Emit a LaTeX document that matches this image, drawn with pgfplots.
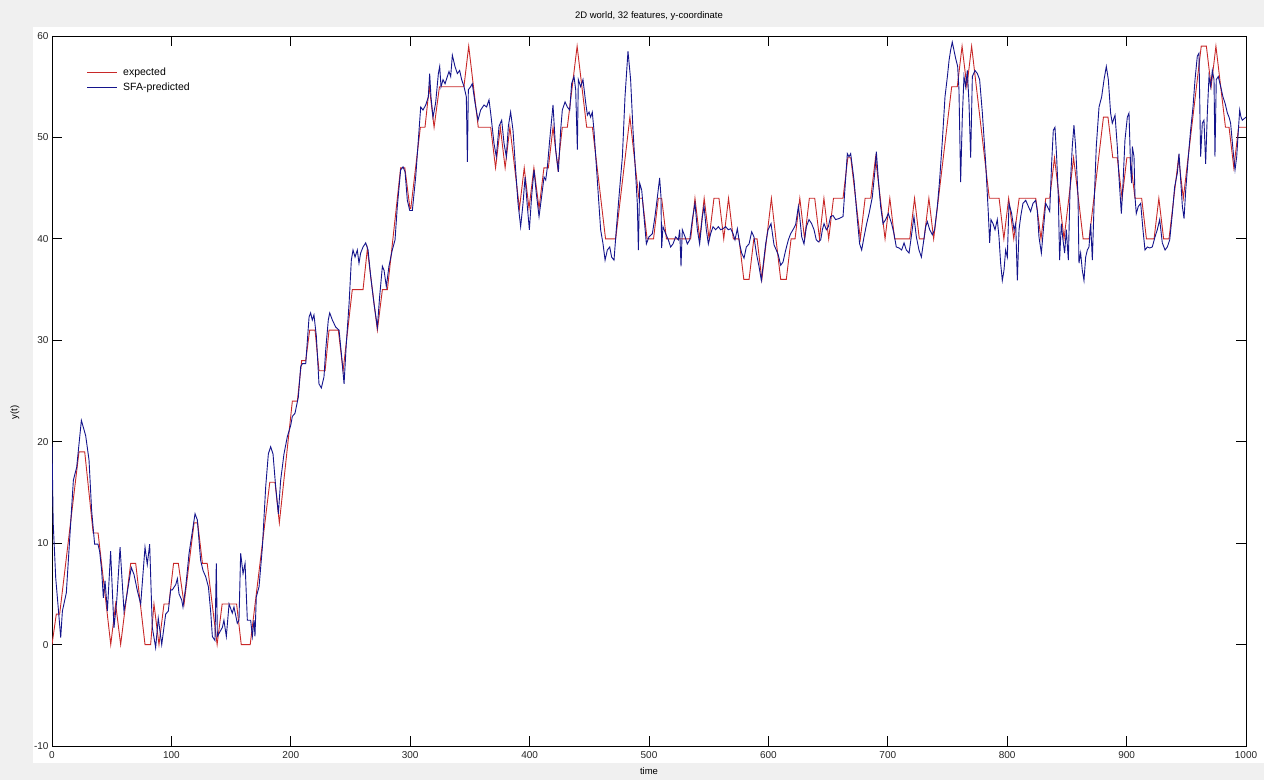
\documentclass[border=0pt]{standalone}
\usepackage{fontspec}
\setmainfont{Liberation Sans}
\usepackage{pgfplots}
\pgfplotsset{compat=1.18}
\definecolor{figbg}{RGB}{240,240,240}
\definecolor{expred}{RGB}{200,40,40}
\definecolor{sfablue}{RGB}{20,20,140}

\pgfplotstableread{
t y
0 0
3.6 3
6.4 3
22.6 19
27.4 19
34.5 11
38.6 11
49.2 0
53.3 4
57.5 0
65.9 8
70.1 8
77.9 0
82.6 0
85.4 4
89.6 0
93.8 4
97.9 4
101.8 8
105.8 8
110.6 4
119 12
122 12
126 8
130 8
138.3 0
142.5 4
154.6 4
158.5 0
166 0
182.4 16
186.8 16
190.4 12
201.3 24
205.5 24
209.1 28
212.5 28
215.8 31
220.3 31
223.6 27
228.7 27
232 31
239.8 31
243.8 27
251.5 35
260.5 35
264.1 39
272.5 31
276.7 35
280.9 35
292 47
295.5 47
299.8 43
300.5 43
308.5 51
312.4 51
316 55
320 51
324.5 55
345 55
349 59
357 51
367.4 51
371.5 47
375.5 51
379.5 47
383.5 51
391.5 43
395.5 47
399.5 43
403.6 47
407.9 43
412 47
415.7 47
419.6 51
423.6 47
427.4 51
431.6 51
439.8 59
447.8 51
452.6 51
463.6 40
472.1 40
484 52
491.5 44
494.4 44
498.4 40
503.8 40
507.8 44
510.6 44
514.6 40
534.9 40
538.5 44
542.5 40
546.2 44
550.3 40
554.4 44
558.6 44
562.6 40
566.6 44
570.6 40
575.4 40
579.4 36
583.8 36
587.8 40
590.5 40
594.5 36
598.5 40
602.5 44
606.3 40
610.3 36
615 36
619 40
622.3 40
626.3 44
630.3 40
634.3 44
638.8 44
642.8 40
646.5 44
650.5 40
654.5 44
662.5 44
666.5 48
669 48
677 40
681 44
685.7 44
689.7 48
697.7 40
701.7 44
705.7 40
718.4 40
722.4 44
726.4 40
730.4 40
734.4 44
738.4 40
753.5 55
758.2 55
762.2 59
766.2 55
770.2 59
785 44
793.2 44
797.2 40
801.2 44
805.5 40
810 44
823.9 44
828.3 40
832.3 44
835.6 44
839.6 48
847.6 40
855.6 48
863.6 40
868.6 40
880.6 52
884.4 52
888.4 48
892.2 48
896.2 44
900.2 48
903 48
907 44
912.6 44
916.6 40
923 40
927 44
931 40
935.5 40
943.5 48
947.5 44
962.5 59
966.8 59
970.8 55
974.8 59
982.8 51
985.8 51
989.8 47
993.8 51
1000 51
}\expected

\pgfplotstableread{
t y
0 19.8
1 12
3.1 6.6
7.3 0.7
8.7 3.3
12 5.1
17.9 16.2
20.7 17.5
24.6 22.1
28.2 20.6
31 18.2
33.2 13.2
35.7 9.9
38.5 9.9
39.9 9.2
41.6 7.3
43 4.6
44.4 6.3
46.4 3.3
49.1 9.2
51.9 1.65
54.2 4.3
57 9.6
60.3 3.3
62.3 4.6
66.4 7.6
68.7 6.9
71.5 5.3
74.3 4.0
77.9 9.6
79.8 7.9
81.8 9.9
84 1.7
86.8 -0.3
89 2.6
91.9 0
95.2 3
97.4 3.3
99.4 5.4
100.8 5.4
103.6 5.9
105 6.5
106.4 5.0
108.6 4.4
109.7 3.7
112 5.7
114.8 9
119.8 12.9
121.7 12.3
124.5 8.3
126.5 7.3
128.7 6.7
131 5.7
133 3.1
134.3 0.8
136.5 0.4
137.6 8
138.5 0.8
139.9 1.1
142.7 1.7
144 2.4
146 0.8
148.3 4.0
151 3.1
152.4 3.7
155.2 2.1
156.6 2.4
158 9
160 7
161.7 8
163.6 2.4
166.4 2.4
167.8 0.8
169.2 2.4
170 0.8
171.1 4.7
173.4 5.7
176.2 9.6
179 15.6
181.2 18.8
183.1 19.5
185.1 18.8
187.3 15.6
189.6 12.9
191.5 16.2
194.3 18.8
197.1 20.5
199.9 21.6
201.3 22.5
203.5 22.8
206.3 24.4
208.3 27.4
209.7 27.7
212.5 27.7
215.3 32.3
216.6 32.7
218 32
219.4 32.5
221.4 30.4
223.6 25.7
225.6 25.3
227.8 26.4
229.2 29
231.4 32
232.6 32.7
234.8 32
237.6 31.3
240.4 31
242.6 28.4
244.6 25.7
246.5 29.7
248.8 33.6
250.7 37.9
252.1 38.9
253.8 38.2
255.7 38.9
257.1 37.6
258.5 38.6
260.5 39.2
262.7 39.6
264.7 38.9
266.9 36.3
269.7 33.6
272.5 31.3
274.4 34.3
276.7 37.3
278.1 36.9
280 35.3
282.2 37.3
285 38.9
287.3 39.9
289.2 43.2
292 46.8
294 47.1
295.7 46.6
297.6 43.8
299.6 42.8
301.8 42.8
304.6 46.1
307.4 50.7
308.8 53
310.7 52.7
313 53.2
315.2 54
316.3 56.3
317.4 54
319.1 52
321.3 53.4
323.6 56.3
324.7 57
325.8 55
327.5 55.7
329.2 55.3
331.1 56
332.5 56.5
333.9 56
335.3 58.1
337.5 57
339.5 56.3
341.4 56.6
343.1 55.7
345.1 55
347 54
347.9 47.6
348.7 54.7
350.6 55
352 55.3
354.3 53.4
356.8 51.7
359 52.7
361.8 53.2
364 53
366 53.7
367.4 52.4
370.2 49.4
372.1 48.1
374.4 51.1
376.6 51.7
378.6 49.4
380.5 48.1
382.2 51.1
384.1 52.5
386.1 50.7
388.3 46.8
390.3 43.5
392.5 41.2
394.5 43.5
396.2 46.1
398.1 43.2
399.8 40.9
401.7 44.2
403.7 46.8
405.6 44.5
407.9 42.2
410.1 44.2
412.1 46.1
413.5 45.8
414.9 47.1
416.8 49.7
419.6 53.2
421.8 48.8
424.1 46.6
426 50.7
427.4 52.7
429.7 53.5
431.6 53
433.6 52.7
435.2 55.3
437.2 56
438.6 54.7
440 48.8
440.8 55.7
442.8 55
444.7 55.7
447 53.4
448.4 52.2
449.8 52.5
451.1 52
452.5 52.5
453.9 50.7
456.7 45.8
459.5 40.9
461.5 39.5
463.2 37.9
465.1 38.9
467.1 39.2
468.7 38.2
470.7 37.9
472.6 40.9
474.9 44.2
477.7 48.1
479.9 54
482.4 58.5
484.6 55.7
486.6 50.7
488.3 47.4
490.2 43.5
491.1 38.9
492.2 45.5
493.9 44.8
495.8 42.2
497.8 39.5
500 40.2
502.8 40.5
505 42.2
507 44.1
508.9 46
510 44.2
510.6 39.1
511.7 41.2
514 40.5
516.2 39.9
518.1 39.2
520.1 39.5
522.3 40.2
524.6 39.9
525.7 40.9
526.8 37.3
527.9 40.9
530.2 40.2
532.1 39.5
534.1 39.9
536.3 41.9
538.5 43.5
540.5 40.9
542.4 39.5
544.7 42.2
546.1 43.2
548 40.9
549.7 39.5
551.6 40.5
553.6 41.2
555.8 40.9
558.1 41.2
560 40.9
562 41
564.2 41.2
566.4 40.9
568.4 41
570.4 40.5
572 39.9
574 41
575.9 39.5
577.6 38.6
579.6 38.1
581.5 39.2
583.8 39.5
586 40.7
587.9 40.2
589.9 38.6
592.1 37.3
594.1 35.9
595.8 37.6
597.7 39.5
599.7 40.9
602.2 41.5
604.7 39.4
606.6 38.9
608.3 38.4
610.3 37.4
612.2 37.7
614.5 38.9
616.7 39.9
618.6 40.5
620.6 40.9
622.8 41.4
625.1 43.2
626.2 42.2
627.9 40.2
629.8 39.5
631.8 41.2
634 41.9
636.2 41.5
638.2 40.9
640.1 39.9
641.8 39.7
643.8 39.9
645.2 40.9
646.6 41.5
648.5 40.9
650.2 41.2
652.1 42.2
654.1 42.3
656.3 41.9
659.1 42
662.5 42.2
664.2 45.1
666.1 48.4
667.5 48.1
668.9 48.4
671.7 45.8
674.5 41.9
676.4 39.5
678.1 38.9
680.1 40.2
682.3 41.5
684.3 42.5
687 44.1
689.3 46.8
690.4 48.6
692.1 45.8
694 43.2
696 41.5
698.2 41.9
700.4 42.5
703.2 41.5
705.2 40.5
707.1 39.2
709.4 39.1
711.6 38.9
713.6 39.6
715.5 38.9
717.8 38.6
720 40.5
721.9 42.2
723.9 40.2
726.1 38.9
728.1 38.2
729.8 39.6
731.7 41.2
733.1 41.7
735.1 40.9
737.3 40.4
739.2 40.9
741.5 43.2
743.4 45.8
745.7 49.7
747.9 54
749.9 56
751.3 57.6
752.6 58.6
754 59.4
755.4 58.6
756.8 57.8
758.5 57
759.6 54.7
761 45.6
762.4 52
763.8 56
765.2 55
766.6 56.6
768 53.4
769.4 48
770.8 56
773 56.6
775 56.3
776.9 55.7
779.2 52.4
782 47.4
784.2 42.5
785.3 39.6
786.4 41.9
788.1 41.5
789.8 40.9
791.7 41.9
793.1 40.2
794.5 37.6
795.9 35.9
797.3 36.9
798.7 38.9
800.1 38.2
801.5 43.5
803.7 42.5
805.7 40.9
807.1 41.5
808.5 35.9
809.9 40.9
811.3 42.2
813.2 43.5
815.5 43.8
817.7 43.2
819.6 42.7
821.6 43.5
823.8 43.8
825.2 42.8
826.6 40.2
828.6 38.6
830.3 40.9
832.2 43.5
833.6 43.2
835.6 42.7
837.2 47.4
838.6 50.7
840 51
841.4 48.1
842.8 44.2
843.9 37.9
845.3 41.5
846.7 39.9
848.1 38.6
849.5 40.9
851.2 37.9
852.6 44.8
854.5 49.1
855.9 51.2
857.3 49.1
859.3 44.2
860.1 37.6
861.5 38.6
862.9 36.9
864.3 35.9
865.7 38.2
867.1 38.9
868.5 39.2
869.9 41.5
871.3 37.9
872.7 43.2
874.6 49.1
876.9 53
879.1 54
881.1 55.7
883 57
884.7 55.7
886.6 52.4
888 51.4
890.3 52.2
892.2 49.1
893.6 46.1
895.6 42.5
897 45.5
898.6 49.7
900.6 52
902 52.4
903.4 46.8
904.2 45.5
904.8 49.1
906.2 48.1
907 44.2
908.1 42.5
909.8 43.2
911.8 43.5
913.7 40.9
915.4 38.9
917.4 39.2
919.3 39.1
921.5 39.2
923.8 40.2
925.7 40.9
927.7 41.9
929.9 39.6
932.2 38.9
934.1 39.2
936.1 39.9
938.3 42.5
940.2 45.1
942.5 46.5
943.9 48.4
945.3 45.8
946.7 43.2
948.1 42
949.5 44.8
951.7 48.1
953.6 50.7
955.6 53
957.3 55.7
959.2 58
960.6 58.3
962 48.1
963.4 51.4
964.8 51.7
966.2 47.4
967.6 52.4
969 56
970.4 55
971.8 56.6
973.2 55.7
974 48.1
975.1 55.7
976.8 56
978.8 55
980.7 54
982.4 53.4
984.4 52.4
985.8 52
987.1 51.4
989.1 48.8
990.8 46.8
992.2 48.1
993.6 50.7
994.7 52.7
995.8 52
996.9 51.7
1000 52
}\predicted

\begin{document}
\begin{tikzpicture}[x=1pt,y=1pt]
\useasboundingbox (0,0) rectangle (1264,780);
\fill[figbg] (0,0) rectangle (1264,780);
\fill[white] (33,17) rectangle (1264,753);
\begin{axis}[
  at={(52pt,34pt)}, anchor=south west,
  width=1194pt, height=710pt, scale only axis,
  xmin=0, xmax=1000, ymin=-10, ymax=60,
  xtick={0,100,...,1000}, ytick={-10,0,...,60},
  axis background/.style={fill=white},
  axis line style={line width=0.8pt, black},
  tick align=inside, major tick length=10pt,
  tick style={line width=0.8pt, black},
  /pgf/number format/assume math mode=true,
  /pgf/number format/1000 sep={},
  ticklabel style={font=\fontsize{10}{12}\selectfont, text=black!85},
  xticklabel style={yshift=-2pt},
  title={2D world, 32 features, y-coordinate},
  title style={font=\fontsize{9.5}{11}\selectfont, at={(0.5,1)}, anchor=south, yshift=9pt, inner sep=0pt},
  xlabel={time},
  xlabel style={font=\fontsize{9.5}{11}\selectfont, at={(axis description cs:0.5,0)}, anchor=north, yshift=-21pt, inner sep=0pt},
  ylabel={y(t)},
  ylabel style={font=\fontsize{9.5}{11}\selectfont, at={(axis description cs:-0.031,0.47)}, anchor=center, inner sep=0pt},
  legend style={draw=none, fill=none, at={(0.029,0.958)}, anchor=north west,
    font=\fontsize{10.5}{12}\selectfont, inner sep=0pt, row sep=3pt, nodes={inner sep=1.5pt},
    /tikz/every odd column/.append style={column sep=4pt}},
  legend cell align=left,
  legend image code/.code={\draw[#1] (0pt,0pt) -- (30pt,0pt);},
]
\addplot[expred, line width=0.9pt] table[x=t,y=y] {\expected};
\addlegendentry{expected}
\addplot[sfablue, line width=0.9pt] table[x=t,y=y] {\predicted};
\addlegendentry{SFA-predicted}
\end{axis}
\end{tikzpicture}
\end{document}
